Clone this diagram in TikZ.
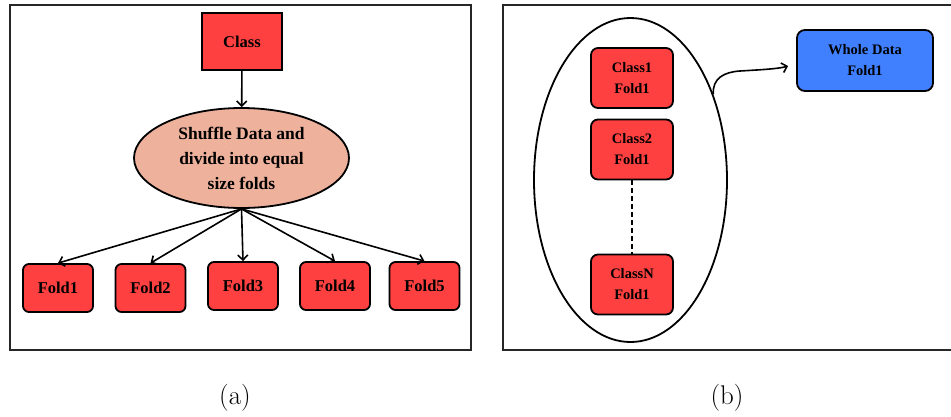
\documentclass[tikz,border=0pt]{standalone}
\usepackage{fontspec}
\newfontfamily\boxfont{Liberation Serif}
\usetikzlibrary{shapes.geometric,arrows.meta}
\definecolor{boxred}{RGB}{255,64,64}
\definecolor{salmon}{RGB}{237,177,156}
\definecolor{boxblue}{RGB}{64,128,255}
\begin{document}
\begin{tikzpicture}[x=1pt,y=-1pt,
  frame/.style={draw=black!85,line width=1.5pt},
  redbox/.style={draw,line width=1.8pt,fill=boxred,rounded corners=6pt,align=center,inner sep=0pt,
    font=\boxfont\bfseries\fontsize{16.5}{19}\selectfont,minimum width=70pt,minimum height=48pt},
  smallbox/.style={draw,line width=1.8pt,fill=boxred,rounded corners=7pt,align=center,inner sep=0pt,
    font=\boxfont\bfseries\fontsize{14.5}{21}\selectfont,minimum width=82pt,minimum height=60pt},
  arr/.style={line width=1.6pt,-{Straight Barb[length=5pt,width=10pt]}},
  captext/.style={font=\fontsize{27}{32}\selectfont}
]
\useasboundingbox (0,0) rectangle (951,416);
% frames
\draw[frame] (10,5) rectangle (471,350);
\draw[frame] (503,5) rectangle (965,350);

% panel (a)
\node[draw,line width=1.8pt,fill=boxred,minimum width=80pt,minimum height=57pt,inner sep=0pt,
  font=\boxfont\bfseries\fontsize{16.5}{19}\selectfont] (cls) at (242,41.5) {Class};
\node[ellipse,draw,line width=1.8pt,fill=salmon,minimum width=215pt,minimum height=100pt,inner sep=0pt,
  align=center,font=\boxfont\bfseries\fontsize{17.5}{25}\selectfont] (shuf) at (241.5,158)
  {Shuffle Data and\\divide into equal\\size folds};
\node[redbox] (f1) at (58,288) {Fold1};
\node[redbox] (f2) at (150.5,288) {Fold2};
\node[redbox] (f3) at (243,286) {Fold3};
\node[redbox] (f4) at (335,286) {Fold4};
\node[redbox] (f5) at (424.5,286) {Fold5};
\draw[arr] (cls) -- (shuf);
\coordinate (src) at (shuf.south);
\draw[arr] (src) -- (f1.north);
\draw[arr] (src) -- (f2.north);
\draw[arr] (src) -- (f3.north);
\draw[arr] (src) -- (f4.north);
\draw[arr] (src) -- (f5.north);

% panel (b)
\node[ellipse,draw,line width=1.8pt,minimum width=193pt,minimum height=324pt,inner sep=0pt] (grp) at (630.5,180) {};
\node[smallbox] (c1) at (632,78) {Class1\\Fold1};
\node[smallbox] (c2) at (632,149.5) {Class2\\Fold1};
\node[smallbox] (cn) at (632,284.5) {ClassN\\Fold1};
\draw[line width=1.5pt,dash pattern=on 5pt off 3pt] (c2.south) -- (cn.north);
\node[draw,line width=1.8pt,fill=boxblue,rounded corners=8pt,minimum width=136pt,minimum height=61pt,
  inner sep=0pt,align=center,font=\boxfont\bfseries\fontsize{14.5}{21}\selectfont] (whole) at (865,60.5)
  {Whole Data\\Fold1};
\coordinate (tipend) at ([xshift=-8pt,yshift=-5.5pt]whole.west);
\draw[arr] (grp.46) .. controls +(-1,-16) and +(-16,1) .. (740,71)
  .. controls +(16,-1) and +(-10,3) .. (tipend);

% captions
\node[captext] (capa) at (235,398) {(a)};
\node[captext] (capb) at (727,398) {(b)};
\end{tikzpicture}
\end{document}
